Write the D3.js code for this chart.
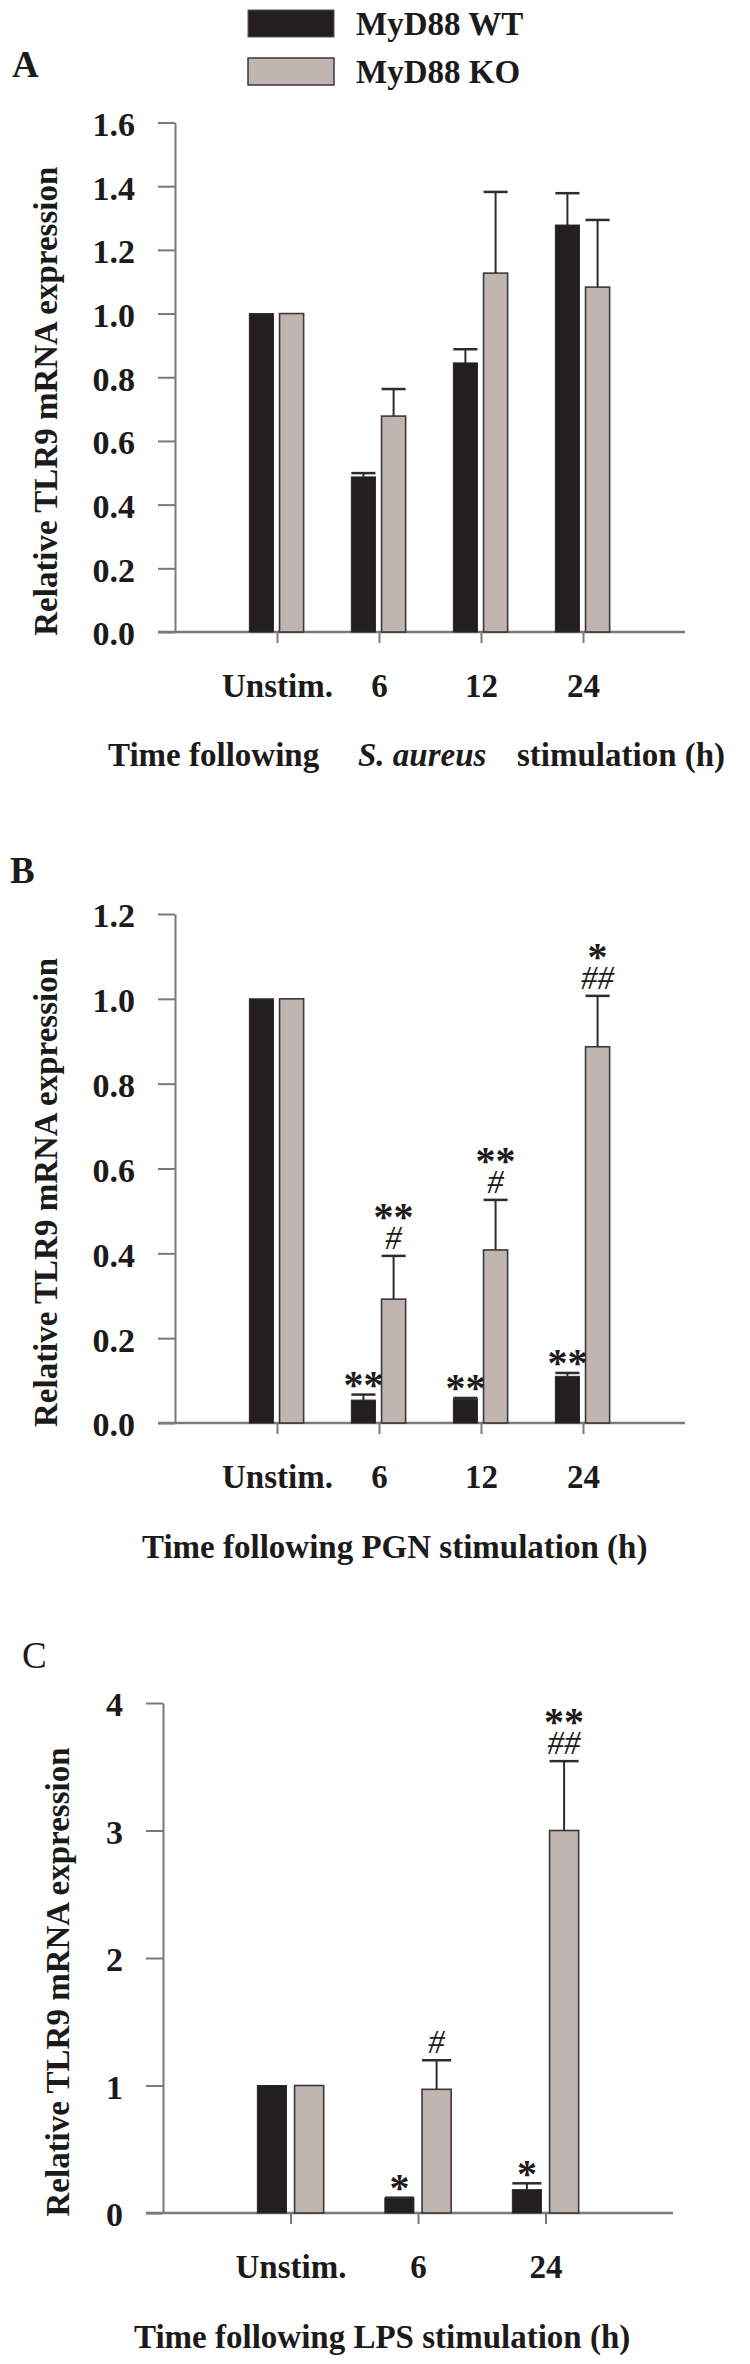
<!DOCTYPE html>
<html>
<head>
<meta charset="utf-8">
<script src="https://cdn.jsdelivr.net/npm/d3@7"></script>
<style>
  html, body { margin: 0; padding: 0; background: #ffffff; }
  svg { display: block; }
  text { font-family: "Liberation Serif", "Times New Roman", serif; fill: #1c1a1b; }
</style>
</head>
<body>
<script>
// ---------------- DATA ----------------
const seriesNames = ["MyD88 WT", "MyD88 KO"];
const yAxisTitle = "Relative TLR9 mRNA expression";

// Panel A : S. aureus
const catsA = ["Unstim.", "6", "12", "24"];
const wtA = [1.0, 0.487, 0.845, 1.278];
const wtErrA = [0, 0.012, 0.043, 0.100];
const koA = [1.0, 0.678, 1.127, 1.083];
const koErrA = [0, 0.085, 0.255, 0.211];
const ticksA = [0, 0.2, 0.4, 0.6, 0.8, 1.0, 1.2, 1.4, 1.6];
const tickLabelsA = ["0.0", "0.2", "0.4", "0.6", "0.8", "1.0", "1.2", "1.4", "1.6"];
const wtAnnA = [[], [], [], []];
const koAnnA = [[], [], [], []];

// Panel B : PGN
const catsB = ["Unstim.", "6", "12", "24"];
const wtB = [1.0, 0.054, 0.056, 0.110];
const wtErrB = [0, 0.013, 0.003, 0.008];
const koB = [1.0, 0.292, 0.408, 0.887];
const koErrB = [0, 0.102, 0.118, 0.120];
const ticksB = [0, 0.2, 0.4, 0.6, 0.8, 1.0, 1.2];
const tickLabelsB = ["0.0", "0.2", "0.4", "0.6", "0.8", "1.0", "1.2"];
const wtAnnB = [[], ["**"], ["**"], ["**"]];
const koAnnB = [[], ["**", "#"], ["**", "#"], ["*", "##"]];

// Panel C : LPS
const catsC = ["Unstim.", "6", "24"];
const wtC = [1.0, 0.116, 0.183];
const wtErrC = [0, 0.004, 0.050];
const koC = [1.0, 0.970, 3.000];
const koErrC = [0, 0.228, 0.544];
const ticksC = [0, 1, 2, 3, 4];
const tickLabelsC = ["0", "1", "2", "3", "4"];
const wtAnnC = [[], ["*"], ["*"]];
const koAnnC = [[], ["#"], ["**", "##"]];

// ---------------- STYLE ----------------
const COL_WT = "#231f20";
const COL_KO = "#c1b5b2";
const COL_KO_STROKE = "#3b3838";
const COL_AXIS = "#7a7a7a";
const COL_ERR = "#2e2c2c";

const svg = d3.select("body").append("svg")
  .attr("width", 750).attr("height", 2364);

// ---------------- LEGEND ----------------
const legend = svg.append("g");
legend.append("rect").attr("x", 248).attr("y", 10).attr("width", 86).attr("height", 27)
  .attr("fill", COL_WT).attr("stroke", "#555").attr("stroke-width", 1);
legend.append("rect").attr("x", 248).attr("y", 58).attr("width", 86).attr("height", 27)
  .attr("fill", COL_KO).attr("stroke", COL_KO_STROKE).attr("stroke-width", 1.5);
legend.selectAll("text.leg").data(seriesNames).join("text")
  .attr("class", "leg")
  .attr("x", 356).attr("y", (d, i) => 35 + i * 48)
  .attr("font-size", 33).attr("font-weight", "bold")
  .text(d => d);

// ---------------- PANEL DRAWER ----------------
function drawPanel(cfg) {
  const g = svg.append("g");
  const y = d3.scaleLinear().domain([0, cfg.yMax]).range([cfg.yBase, cfg.yTop]);
  const x = d3.scalePoint().domain(cfg.cats).range([cfg.axisX, cfg.xEnd]).padding(1);
  const step = x.step();
  const barW = step * cfg.barFrac;
  const xWT = c => x(c) - step * cfg.gapWT - barW;
  const xKO = c => x(c) + step * cfg.gapKO;

  // panel letter
  g.append("text").attr("x", cfg.letterX).attr("y", cfg.letterY)
    .attr("font-size", 37).attr("font-weight", cfg.letterWeight).text(cfg.letter);

  // y axis
  const yAxis = d3.axisLeft(y).tickValues(cfg.ticks)
    .tickFormat((d, i) => cfg.tickLabels[i])
    .tickSize(17).tickSizeOuter(0).tickPadding(23);
  const ya = g.append("g").attr("transform", `translate(${cfg.axisX},0)`).call(yAxis);
  ya.select(".domain").attr("stroke", COL_AXIS).attr("stroke-width", 2);
  ya.selectAll(".tick line").attr("stroke", COL_AXIS).attr("stroke-width", 2);
  ya.selectAll(".tick text")
    .attr("font-family", "Liberation Serif, Times New Roman, serif")
    .attr("font-size", 34).attr("font-weight", "bold").attr("fill", "#1c1a1b")
    .attr("dy", "0.38em");

  // x axis
  const xAxis = d3.axisBottom(x).tickSize(11).tickSizeOuter(0);
  const xa = g.append("g").attr("transform", `translate(0,${cfg.yBase})`).call(xAxis);
  xa.select(".domain").remove();
  xa.selectAll(".tick line").attr("stroke", COL_AXIS).attr("stroke-width", 2);
  xa.selectAll(".tick text")
    .attr("font-family", "Liberation Serif, Times New Roman, serif")
    .attr("font-size", 33).attr("font-weight", "bold").attr("fill", "#1c1a1b")
    .attr("y", 65).attr("dy", 0);
  g.append("line")
    .attr("x1", cfg.axisX - 17).attr("x2", cfg.xEnd)
    .attr("y1", cfg.yBase).attr("y2", cfg.yBase)
    .attr("stroke", COL_AXIS).attr("stroke-width", 2.5);

  // bars
  g.selectAll("rect.wt").data(cfg.cats).join("rect").attr("class", "wt")
    .attr("x", c => xWT(c)).attr("width", barW)
    .attr("y", (c, i) => y(cfg.wt[i])).attr("height", (c, i) => cfg.yBase - y(cfg.wt[i]))
    .attr("fill", COL_WT).attr("stroke", "#2a2627").attr("stroke-width", 1);
  g.selectAll("rect.ko").data(cfg.cats).join("rect").attr("class", "ko")
    .attr("x", c => xKO(c)).attr("width", barW)
    .attr("y", (c, i) => y(cfg.ko[i])).attr("height", (c, i) => cfg.yBase - y(cfg.ko[i]))
    .attr("fill", COL_KO).attr("stroke", COL_KO_STROKE).attr("stroke-width", 1.6);

  // error bars
  function errBars(cls, vals, errs, xf) {
    const sel = g.selectAll("g." + cls).data(cfg.cats.filter((c, i) => errs[i] > 0))
      .join("g").attr("class", cls);
    sel.append("line")
      .attr("x1", c => xf(c) + barW / 2).attr("x2", c => xf(c) + barW / 2)
      .attr("y1", c => y(vals[cfg.cats.indexOf(c)]))
      .attr("y2", c => { const i = cfg.cats.indexOf(c); return y(vals[i] + errs[i]); })
      .attr("stroke", COL_ERR).attr("stroke-width", 2);
    sel.append("line")
      .attr("x1", c => xf(c)).attr("x2", c => xf(c) + barW)
      .attr("y1", c => { const i = cfg.cats.indexOf(c); return y(vals[i] + errs[i]); })
      .attr("y2", c => { const i = cfg.cats.indexOf(c); return y(vals[i] + errs[i]); })
      .attr("stroke", COL_ERR).attr("stroke-width", 2.5);
  }
  errBars("ewt", cfg.wt, cfg.wtErr, xWT);
  errBars("eko", cfg.ko, cfg.koErr, xKO);

  // significance marks: one text element per stack, one tspan per line
  function annotate(anns, vals, errs, xf) {
    cfg.cats.forEach((c, i) => {
      const lines = anns[i];
      if (!lines.length) return;
      const cx = xf(c) + barW / 2;
      let cur = y(vals[i] + errs[i]) - 7; // bottom of next glyph
      const placed = [];
      for (let k = lines.length - 1; k >= 0; k--) {
        const t = lines[k];
        if (t.indexOf("#") >= 0) {
          const fs = 33;
          placed.unshift({t, y: cur, fs, hash: true});
          cur = cur - 0.68 * fs - 7;
        } else {
          const fs = 40;
          placed.unshift({t, y: cur + 0.26 * fs, fs, hash: false});
          cur = cur - 0.44 * fs - 7;
        }
      }
      const txt = g.append("text").attr("text-anchor", "middle");
      placed.forEach(p => {
        txt.append("tspan").attr("x", cx).attr("y", p.y)
          .attr("font-size", p.fs)
          .attr("font-style", p.hash ? "italic" : "normal")
          .attr("font-weight", p.hash ? "normal" : "bold")
          .text(p.t);
      });
    });
  }
  annotate(cfg.wtAnn, cfg.wt, cfg.wtErr, xWT);
  annotate(cfg.koAnn, cfg.ko, cfg.koErr, xKO);

  // y title
  g.append("text")
    .attr("transform", `translate(${cfg.yTitleX},${(cfg.yBase + cfg.yTop) / 2 + 24}) rotate(-90)`)
    .attr("text-anchor", "middle").attr("font-size", 33).attr("font-weight", "bold")
    .text(yAxisTitle);

  // x title (pieces as separate texts)
  cfg.xTitle.forEach(p => {
    g.append("text").attr("x", p.x).attr("y", cfg.xTitleY)
      .attr("font-size", 33).attr("font-weight", "bold")
      .attr("font-style", p.italic ? "italic" : "normal")
      .text(p.t);
  });
}

drawPanel({
  letter: "A", letterX: 12, letterY: 77, letterWeight: "bold",
  cats: catsA, wt: wtA, wtErr: wtErrA, ko: koA, koErr: koErrA,
  ticks: ticksA, tickLabels: tickLabelsA, wtAnn: wtAnnA, koAnn: koAnnA,
  yMax: 1.6, yTop: 122.5, yBase: 632, axisX: 175, xEnd: 685,
  barFrac: 0.236, gapWT: 0.035, gapKO: 0.025,
  yTitleX: 57,
  xTitleY: 766,
  xTitle: [{t: "Time following", x: 108}, {t: "S. aureus", italic: true, x: 358}, {t: "stimulation (h)", x: 517}]
});

drawPanel({
  letter: "B", letterX: 10, letterY: 883, letterWeight: "bold",
  cats: catsB, wt: wtB, wtErr: wtErrB, ko: koB, koErr: koErrB,
  ticks: ticksB, tickLabels: tickLabelsB, wtAnn: wtAnnB, koAnn: koAnnB,
  yMax: 1.2, yTop: 914, yBase: 1423, axisX: 175, xEnd: 685,
  barFrac: 0.236, gapWT: 0.035, gapKO: 0.025,
  yTitleX: 57,
  xTitleY: 1558,
  xTitle: [{t: "Time following PGN stimulation (h)", x: 142}]
});

drawPanel({
  letter: "C", letterX: 22, letterY: 1668, letterWeight: "normal",
  cats: catsC, wt: wtC, wtErr: wtErrC, ko: koC, koErr: koErrC,
  ticks: ticksC, tickLabels: tickLabelsC, wtAnn: wtAnnC, koAnn: koAnnC,
  yMax: 4, yTop: 1703, yBase: 2213, axisX: 163, xEnd: 673,
  barFrac: 0.228, gapWT: 0.032, gapKO: 0.032,
  yTitleX: 69,
  xTitleY: 2348,
  xTitle: [{t: "Time following LPS stimulation (h)", x: 134}]
});
</script>
</body>
</html>
